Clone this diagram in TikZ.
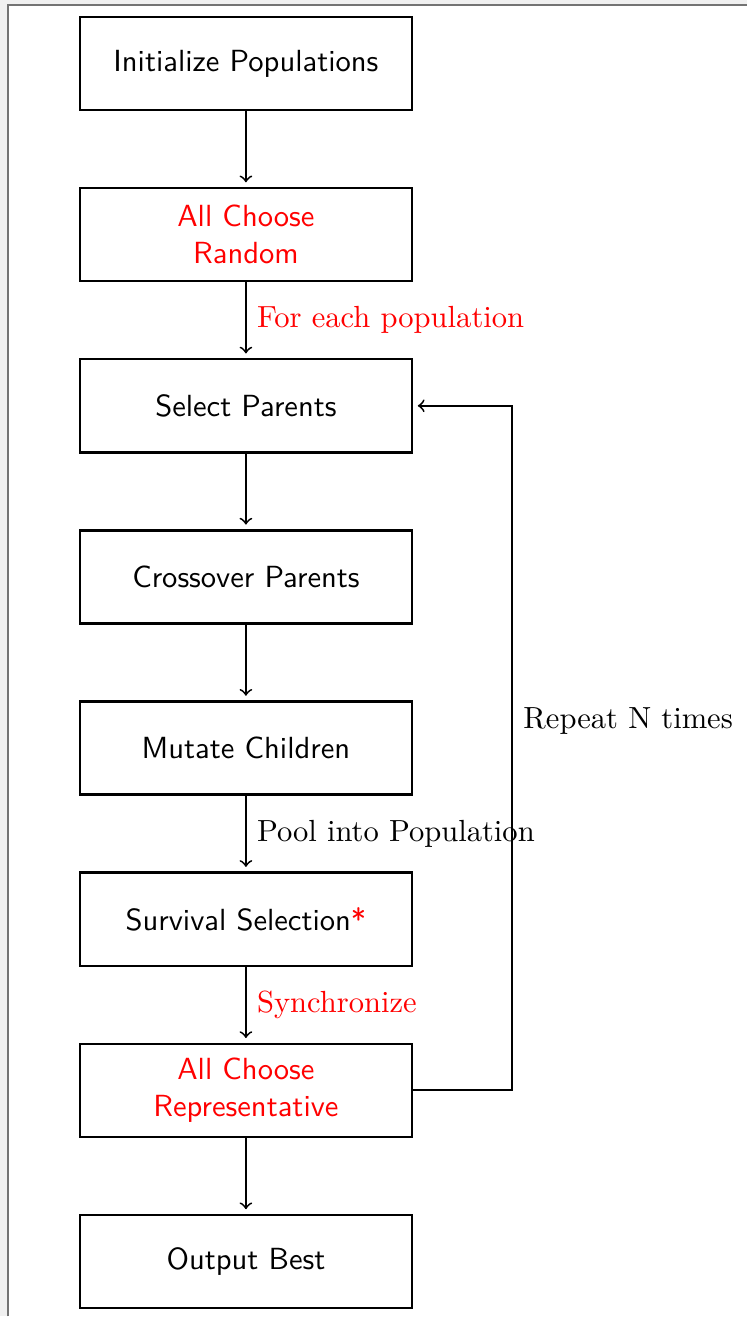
\documentclass[tikz,border=0pt]{standalone}
\usetikzlibrary{positioning}

\begin{document}
\begin{tikzpicture}[
    node distance=0.87cm,
    block/.style={rectangle, draw, thick, minimum width=3.82cm, minimum height=1.07cm, font=\sffamily, align=center},
    arrow/.style={->, semithick, shorten >=1.5pt},
    note/.style={font=\rmfamily, right}
]

% Viewer frame round the page
\fill[black!6] (0,0) rectangle (8.586,-15.138);
\fill[white] (0.092,-0.057) rectangle (8.586,-15.138);
\draw[black!55] (0.092,-15.138) -- (0.092,-0.057) -- (8.586,-0.057);
\useasboundingbox (0,0) rectangle (8.586,-15.138);

% Main flow
\node[block] (init) at (2.828,-0.730) {Initialize Populations};
\node[block, below=of init, text=red] (random) {All Choose\\Random};
\node[block, below=of random] (select) {Select Parents};
\node[block, below=of select] (cross) {Crossover Parents};
\node[block, below=of cross] (mutate) {Mutate Children};
\node[block, below=of mutate] (survive) {Survival Selection\textcolor{red}{*}};
\node[block, below=of survive, text=red] (rep) {All Choose\\Representative};
\node[block, below=of rep] (best) {Output Best};

\draw[arrow] (init) -- (random);
\draw[arrow] (random) -- node[note, text=red] {For each population} (select);
\draw[arrow] (select) -- (cross);
\draw[arrow] (cross) -- (mutate);
\draw[arrow] (mutate) -- node[note] {Pool into Population} (survive);
\draw[arrow] (survive) -- node[note, text=red] {Synchronize} (rep);
\draw[arrow] (rep) -- (best);

% Loop back
\draw[arrow] (rep.east) -- ++(1.14,0) |- node[note, pos=0.27] {Repeat N times} (select.east);

\end{tikzpicture}
\end{document}
